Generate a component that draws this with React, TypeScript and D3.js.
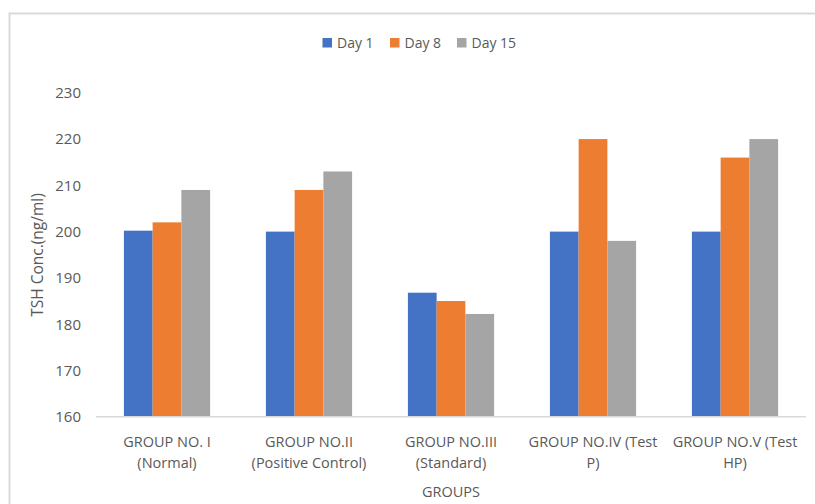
import React from "react";
import * as d3 from "d3";

const groups = [
  ["GROUP NO. I", "(Normal)"],
  ["GROUP NO.II", "(Positive Control)"],
  ["GROUP NO.III", "(Standard)"],
  ["GROUP NO.IV (Test", "P)"],
  ["GROUP NO.V (Test", "HP)"],
];
const seriesNames = ["Day 1", "Day 8", "Day 15"];
const day1 = [200.2, 200, 186.8, 200, 200];
const day8 = [202, 209, 185, 220, 216];
const day15 = [209, 213, 182.2, 198, 220];
const yTicks = [160, 170, 180, 190, 200, 210, 220, 230];
const colors = ["#4472C4", "#ED7D31", "#A5A5A5"];

const W = 815;
const H = 504;
const TEXT = "#595959";
const FONT = "'Open Sans', 'Noto Sans', sans-serif";

export default function App() {
  const values = [day1, day8, day15];
  const x = d3
    .scaleBand<number>()
    .domain(d3.range(groups.length))
    .range([96, 806])
    .paddingInner(0.393)
    .paddingOuter(0.1965);
  const xs = d3
    .scaleBand<number>()
    .domain(d3.range(seriesNames.length))
    .range([0, x.bandwidth()]);
  const y = d3.scaleLinear().domain([160, 230]).range([416.7, 92.8]);

  const legendX = [322.5, 390, 457];

  return (
    <svg
      width={W}
      height={H}
      style={{ position: "absolute", left: 0, top: 0, background: "#fff" }}
      fontFamily={FONT}
    >
      <rect x={0} y={0} width={W} height={H} fill="#fff" />
      {/* chart frame */}
      <path d={`M9.5,${H} V13.5 H${W}`} fill="none" stroke="#d9d9d9" strokeWidth={2} />

      {/* legend */}
      {seriesNames.map((name, i) => (
        <g key={name}>
          <rect x={legendX[i]} y={38} width={9.5} height={9.5} fill={colors[i]} />
          <text x={legendX[i] + 14.5} y={48} fontSize={14} fill={TEXT}>
            {name}
          </text>
        </g>
      ))}

      {/* y tick labels */}
      {yTicks.map((t) => (
        <text
          key={t}
          x={81}
          y={y(t)}
          dy="0.36em"
          textAnchor="end"
          fontSize={15}
          fill={TEXT}
        >
          {t}
        </text>
      ))}

      {/* y axis title */}
      <text
        transform={`translate(43,255) rotate(-90)`}
        textAnchor="middle"
        fontSize={15.5}
        fill={TEXT}
      >
        TSH Conc.(ng/ml)
      </text>

      {/* bars */}
      {groups.map((_, gi) => (
        <g key={gi} transform={`translate(${x(gi)},0)`}>
          {values.map((vals, si) => (
            <rect
              key={si}
              x={xs(si)}
              y={y(vals[gi])}
              width={xs.bandwidth()}
              height={y(160) - y(vals[gi])}
              fill={colors[si]}
            />
          ))}
        </g>
      ))}

      {/* category axis line */}
      <line x1={96} x2={806} y1={y(160)} y2={y(160)} stroke="#d9d9d9" strokeWidth={1.5} />

      {/* category labels */}
      {groups.map((lines, gi) => (
        <text
          key={gi}
          x={(x(gi) as number) + x.bandwidth() / 2}
          textAnchor="middle"
          fontSize={14.5}
          fill={TEXT}
        >
          <tspan x={(x(gi) as number) + x.bandwidth() / 2} y={447}>
            {lines[0]}
          </tspan>
          <tspan x={(x(gi) as number) + x.bandwidth() / 2} y={468}>
            {lines[1]}
          </tspan>
        </text>
      ))}

      {/* x axis title */}
      <text x={451} y={497} textAnchor="middle" fontSize={14.5} fill={TEXT}>
        GROUPS
      </text>
    </svg>
  );
}
